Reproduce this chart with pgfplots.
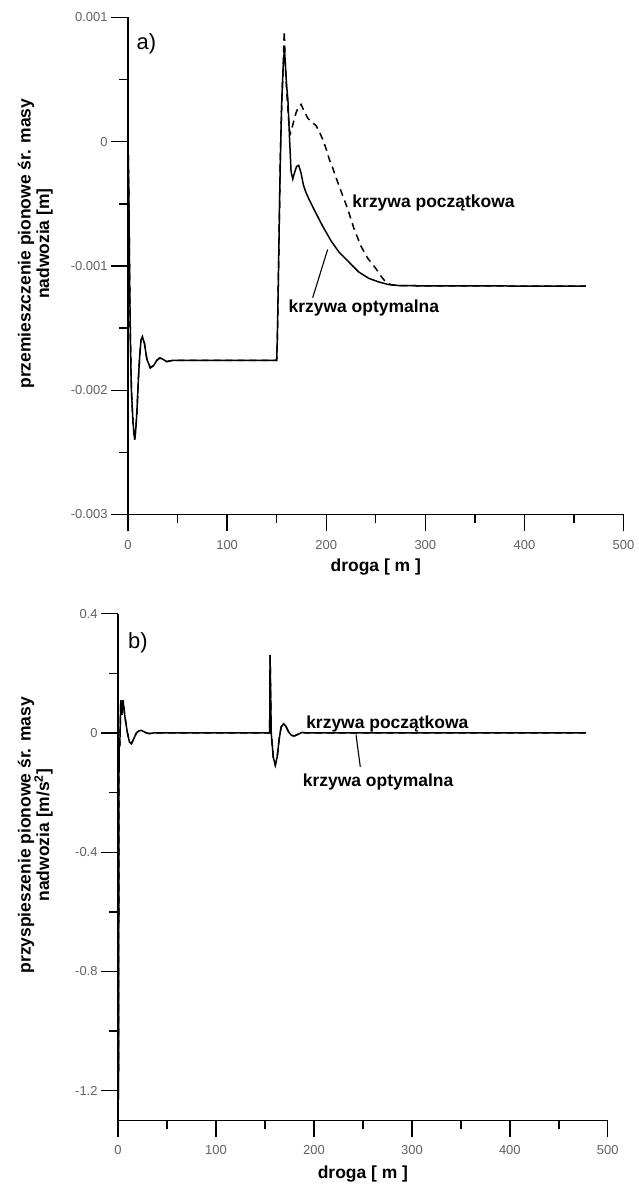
\documentclass[border=0pt]{standalone}
\usepackage{fontspec}
\setmainfont{Liberation Sans}
\usepackage{pgfplots}
\pgfplotsset{compat=1.18}
\begin{document}
\begin{tikzpicture}
\path (0pt,0pt) rectangle (640pt,1186pt);
\pgfplotsset{
  myaxis/.style={
    scale only axis,
    axis x line=bottom, axis y line=left,
    axis line style={-, line width=1.4pt},
    tick align=outside,
    major tick length=17pt, minor tick length=9pt,
    every tick/.style={black, line width=1.4pt},
    xmin=0, xmax=500,
    xtick={0,100,...,500}, minor xtick={50,150,...,450},
    scaled y ticks=false,
    tick label style={font=\fontsize{13}{13}\selectfont, text=black!62},
    xticklabel style={yshift=-5pt},
    /pgf/number format/assume math mode=true,
    every axis x label/.style={at={(axis description cs:0.5,-0.1155)}, anchor=base, font=\fontsize{17.5}{19}\selectfont\bfseries},
  }
}
% ---------- top panel ----------
\begin{axis}[myaxis,
  at={(128.3pt,670.5pt)}, anchor=south west,
  width=496.5pt, height=498pt,
  ymin=-0.003, ymax=0.001,
  ytick={-0.003,-0.002,-0.001,0,0.001},
  yticklabels={-0.003,-0.002,-0.001,0,0.001},
  minor ytick={-0.0025,-0.0015,-0.0005,0.0005},
  xlabel={droga [ m ]},
  ylabel={przemieszczenie pionowe śr. masy\\nadwozia [m]},
  every axis y label/.style={at={(axis description cs:-0.187,0.545)}, rotate=90, anchor=center, align=center, font=\fontsize{17.5}{18.5}\selectfont\bfseries},
]
\addplot[black, line width=1.5pt, dash pattern=on 7pt off 5pt] coordinates {
(0,0) (0.8,-0.0004) (1.6,-0.0011) (2.4,-0.0016) (3.4,-0.002) (5,-0.00226) (6.7,-0.0024) (8,-0.0023) (9.1,-0.00215) (10.5,-0.0019) (11.8,-0.00172) (13,-0.0016) (14.5,-0.00157) (16.5,-0.00162) (19,-0.00175) (22.5,-0.00182) (26,-0.0018) (29,-0.00176) (32,-0.00174) (35,-0.00175) (39,-0.00177) (45,-0.00176) (150,-0.00176) (150.6,-0.0016) (151.5,-0.0012) (152.5,-0.0007) (153.5,-0.0002) (155,0.0003) (156.5,0.0006) (157.6,0.00089) (158.8,0.0006) (160.5,0.00035) (162.3,0.00015) (163.5,0.00006) (164.5,0.00008) (167,0.00016) (169.6,0.000235) (172,0.00028) (174.6,0.0003) (177.5,0.00025) (181.3,0.00019) (185,0.00016) (189.7,0.00013) (193,0.00008) (196.4,0.00002) (200,-0.00006) (203,-0.00014) (206.5,-0.00021) (209.9,-0.00029) (215,-0.0004) (221.6,-0.00054) (228,-0.0007) (235,-0.00084) (242,-0.00094) (250,-0.00102) (255,-0.00108) (260,-0.00113) (265,-0.00115) (273.6,-0.001158) (300,-0.00116) (350,-0.00116) (400,-0.001162) (462,-0.001162)
};
\addplot[black, line width=1.5pt] coordinates {
(0,0) (0.8,-0.0004) (1.6,-0.0011) (2.4,-0.0016) (3.4,-0.002) (5,-0.00226) (6.7,-0.0024) (8,-0.0023) (9.1,-0.00215) (10.5,-0.0019) (11.8,-0.00172) (13,-0.0016) (14.5,-0.00157) (16.5,-0.00162) (19,-0.00175) (22.5,-0.00182) (26,-0.0018) (29,-0.00176) (32,-0.00174) (35,-0.00175) (39,-0.00177) (45,-0.00176) (150,-0.00176) (150.6,-0.0016) (151.5,-0.0012) (152.5,-0.0007) (153.5,-0.0002) (155,0.0003) (156.5,0.0006) (157.8,0.00075) (160,0.00045) (161.3,0.00034) (163,0.00002) (164.5,-0.00024) (166.2,-0.0003) (168,-0.00025) (170,-0.0002) (172.2,-0.00019) (174.5,-0.00025) (177,-0.00035) (179.6,-0.00041) (183,-0.00047) (188,-0.00055) (196.4,-0.00068) (205,-0.0008) (213,-0.00089) (223,-0.00097) (233,-0.00105) (243,-0.0011) (253.5,-0.00113) (263,-0.00115) (273.6,-0.001158) (300,-0.00116) (350,-0.00116) (400,-0.001162) (462,-0.001162)
};
\end{axis}
% ---------- bottom panel ----------
\begin{axis}[myaxis,
  at={(118.3pt,63.3pt)}, anchor=south west,
  width=490.7pt, height=507.7pt,
  ymin=-1.3, ymax=0.4,
  ytick={-1.2,-0.8,-0.4,0,0.4},
  yticklabels={-1.2,-0.8,-0.4,0,0.4},
  minor ytick={-1.0,-0.6,-0.2,0.2},
  xlabel={droga [ m ]},
  ylabel={przyspieszenie pionowe śr. masy\\nadwozia [m/s\textsuperscript{2}]},
  every axis y label/.style={at={(axis description cs:-0.169,0.563)}, rotate=90, anchor=center, align=center, font=\fontsize{17.5}{18.5}\selectfont\bfseries},
]
\addplot[black, line width=1.5pt, dash pattern=on 7pt off 5pt] coordinates {
(0,0) (0.4,-1.23) (1.0,-0.05) (1.8,-0.04) (2.8,0.11) (3.8,0.06) (5.0,0.11) (7.2,0.05) (9.6,0.0) (11.6,-0.03) (13.6,-0.036) (16.2,-0.018) (18.7,0.0) (21.2,0.007) (23.8,0.009) (26.5,0.004) (29,0.0) (32,-0.002) (36,0) (154.8,0) (155.2,0.262) (156.4,0.0) (158.4,-0.08) (160.5,-0.108) (162.5,-0.08) (164.5,-0.02) (166.5,0.02) (169,0.031) (171.5,0.022) (174,0.004) (177,-0.008) (180,-0.01) (184,-0.004) (188,0.002) (192,0.0) (478,0)
};
\addplot[black, line width=1.5pt] coordinates {
(0,0) (0.4,-1.23) (1.0,-0.05) (1.8,-0.04) (2.8,0.11) (3.8,0.06) (5.0,0.11) (7.2,0.05) (9.6,0.0) (11.6,-0.03) (13.6,-0.036) (16.2,-0.018) (18.7,0.0) (21.2,0.007) (23.8,0.009) (26.5,0.004) (29,0.0) (32,-0.002) (36,0) (154.8,0) (155.2,0.262) (156.4,0.0) (158.4,-0.08) (160.5,-0.108) (162.5,-0.08) (164.5,-0.02) (166.5,0.02) (169,0.031) (171.5,0.022) (174,0.004) (177,-0.008) (180,-0.01) (184,-0.004) (188,0.002) (192,0.0) (478,0)
};
\end{axis}
% ---------- annotations ----------
\node[anchor=base west, inner sep=0pt, font=\fontsize{22}{22}\selectfont] at (136.7pt,1136pt) {a)};
\node[anchor=base west, inner sep=0pt, font=\fontsize{22}{22}\selectfont] at (128.3pt,536pt) {b)};
\node[anchor=base west, inner sep=0pt, font=\fontsize{17.5}{19}\selectfont\bfseries] at (353pt,977.7pt) {krzywa początkowa};
\node[anchor=base west, inner sep=0pt, font=\fontsize{17.5}{19}\selectfont\bfseries] at (289pt,872.7pt) {krzywa optymalna};
\draw[black, line width=1.1pt] (313.3pt,887.7pt) -- (328.3pt,936pt);
\node[anchor=base west, inner sep=0pt, font=\fontsize{17.5}{19}\selectfont\bfseries] at (306.7pt,456pt) {krzywa początkowa};
\node[anchor=base west, inner sep=0pt, font=\fontsize{17.5}{19}\selectfont\bfseries] at (303.3pt,397.7pt) {krzywa optymalna};
\draw[black, line width=1.1pt] (356.7pt,450pt) -- (361pt,417.7pt);
\end{tikzpicture}
\end{document}
